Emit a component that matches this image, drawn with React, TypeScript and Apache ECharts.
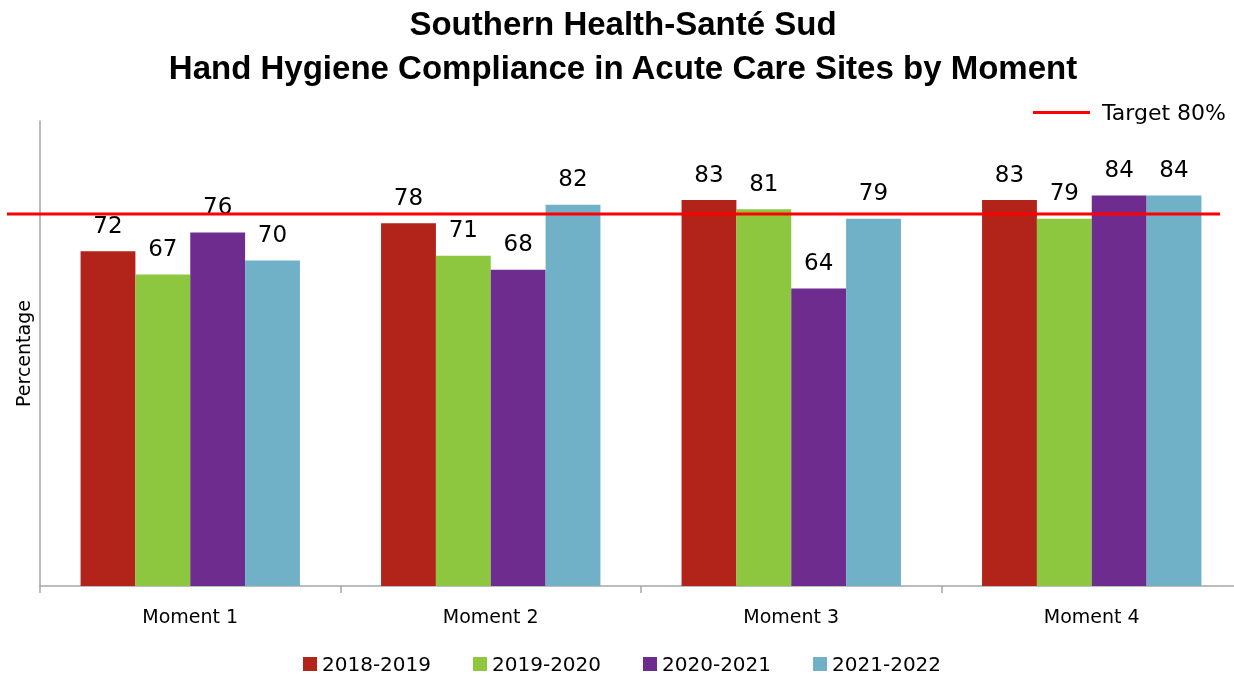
import React, { useEffect, useRef } from "react";
import * as echarts from "echarts";

const categories = ["Moment 1", "Moment 2", "Moment 3", "Moment 4"];
const seriesNames = ["2018-2019", "2019-2020", "2020-2021", "2021-2022"];
const values2018 = [72, 78, 83, 83];
const values2019 = [67, 71, 81, 79];
const values2020 = [76, 68, 64, 84];
const values2021 = [70, 82, 79, 84];
const colors = ["#B2231A", "#8DC63F", "#6E2C8F", "#70B1C8"];
const TARGET = 80;
const targetLabel = "Target 80%";
const titleLines = ["Southern Health-Santé Sud", "Hand Hygiene Compliance in Acute Care Sites by Moment"];

const FONT = "DejaVu Sans";

export default function App() {
  const ref = useRef<HTMLDivElement>(null);
  useEffect(() => {
    if (!ref.current) return;
    const chart = echarts.init(ref.current, null, { renderer: "svg" });
    const allValues = [values2018, values2019, values2020, values2021];
    chart.setOption({
      animation: false,
      color: colors,
      grid: {
        left: 40,
        top: 121,
        width: 1202,
        height: 465,
        containLabel: false,
        outerBoundsMode: "none",
      },
      legend: {
        data: seriesNames,
        left: 303,
        top: 654,
        padding: 0,
        icon: "rect",
        itemWidth: 14,
        itemHeight: 14,
        itemGap: 42,
        textStyle: { fontFamily: FONT, fontSize: 20, color: "#000" },
      },
      xAxis: {
        type: "category",
        data: categories,
        axisLine: { lineStyle: { color: "#a6a6a6", width: 1.5 } },
        axisTick: { show: true, length: 7, lineStyle: { color: "#a6a6a6", width: 1.5 } },
        axisLabel: { fontFamily: FONT, fontSize: 19, color: "#000", margin: 20 },
      },
      yAxis: {
        type: "value",
        min: 0,
        max: 100,
        name: "Percentage",
        nameLocation: "middle",
        nameGap: 8,
        nameTextStyle: { fontFamily: FONT, fontSize: 19, color: "#000" },
        axisLine: { show: true, lineStyle: { color: "#a6a6a6", width: 1.5 } },
        axisTick: { show: false },
        axisLabel: { show: false },
        splitLine: { show: false },
      },
      series: seriesNames.map((name, i) => ({
        name,
        type: "bar",
        data: allValues[i],
        barGap: "0%",
        barCategoryGap: "27%",
        label: {
          show: true,
          position: "top",
          distance: 15,
          fontFamily: FONT,
          fontSize: 23,
          color: "#000",
        },
      })),
    });
    const yPx = chart.convertToPixel({ yAxisIndex: 0 }, TARGET) as number;
    chart.setOption({
      graphic: [
        {
          type: "text",
          x: 623,
          y: 23,
          style: {
            text: titleLines[0],
            fontFamily: "Liberation Sans",
            fontWeight: "bold",
            fontSize: 33,
            fill: "#000",
            textAlign: "center",
            textVerticalAlign: "middle",
          },
        },
        {
          type: "text",
          x: 623,
          y: 67,
          style: {
            text: titleLines[1],
            fontFamily: "Liberation Sans",
            fontWeight: "bold",
            fontSize: 33,
            fill: "#000",
            textAlign: "center",
            textVerticalAlign: "middle",
          },
        },
        {
          type: "line",
          shape: { x1: 7, y1: yPx, x2: 1220, y2: yPx },
          style: { stroke: "#FF0000", lineWidth: 3 },
          z: 10,
        },
        {
          type: "line",
          shape: { x1: 1033, y1: 112.5, x2: 1090, y2: 112.5 },
          style: { stroke: "#FF0000", lineWidth: 3 },
        },
        {
          type: "text",
          x: 1102,
          y: 112,
          style: {
            text: targetLabel,
            fontFamily: FONT,
            fontSize: 22,
            fill: "#000",
            textAlign: "left",
            textVerticalAlign: "middle",
          },
        },
      ],
    });
    return () => chart.dispose();
  }, []);
  return (
    <div
      ref={ref}
      style={{ position: "fixed", left: 0, top: 0, width: 1234, height: 675 }}
    />
  );
}
